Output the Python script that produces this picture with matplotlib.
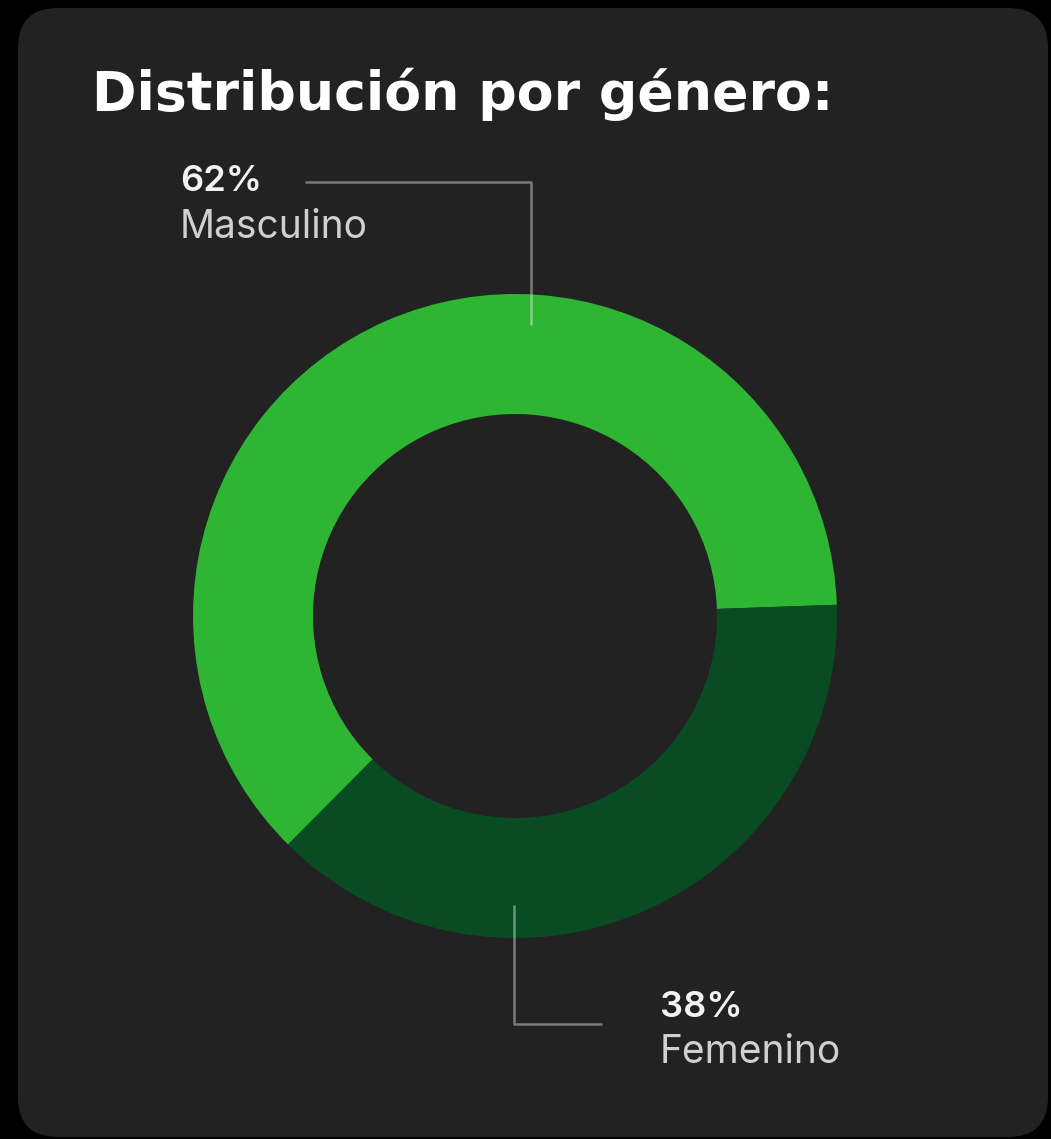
import matplotlib.pyplot as plt
from matplotlib.patches import FancyBboxPatch

# Distribución por género
generos = ['Masculino', 'Femenino']
porcentajes = [62, 38]
colores = ['#2db533', '#094c23']

W, H = 1051, 1139
fig = plt.figure(figsize=(W / 100, H / 100), dpi=100)
fig.patch.set_facecolor('black')
ax = fig.add_axes([0, 0, 1, 1])

# card background
card = FancyBboxPatch((18, 2), 1030, 1129, boxstyle='round,pad=0,rounding_size=40',
                      facecolor='#222222', edgecolor='none', zorder=0)
ax.add_patch(card)

cx, cy, r = 515, H - 616, 322
ax.pie(porcentajes, colors=colores, startangle=2, counterclock=True,
       radius=r, center=(cx, cy),
       wedgeprops=dict(width=120, edgecolor='none'))

ax.set_xlim(0, W)
ax.set_ylim(0, H)
ax.set_aspect('equal')
ax.axis('off')

ax.text(92, H - 110, 'Distribución por género:', fontsize=38.7, fontweight='bold',
        family='DejaVu Sans', color='white', va='baseline', ha='left')

# leader lines
line_kw = dict(color='white', alpha=0.4, lw=1.8, solid_capstyle='butt', zorder=5)
ax.plot([305, 531, 531], [H - 182, H - 182, H - 325], **line_kw)
ax.plot([514, 514, 602], [H - 905, H - 1024, H - 1024], **line_kw)

etiquetas = [(180, 191, 238), (660, 1017, 1063)]
for (x, y1, y2), g, p in zip(etiquetas, generos, porcentajes):
    ax.text(x, H - y1, f'{p}%', fontsize=26, fontweight='semibold', family='Inter',
            color='#f2f2f2', va='baseline', ha='left')
    ax.text(x, H - y2, g, fontsize=28, family='Inter',
            color='#d0d0d0', va='baseline', ha='left')

fig.savefig('out.png', dpi=100, facecolor=fig.get_facecolor())
